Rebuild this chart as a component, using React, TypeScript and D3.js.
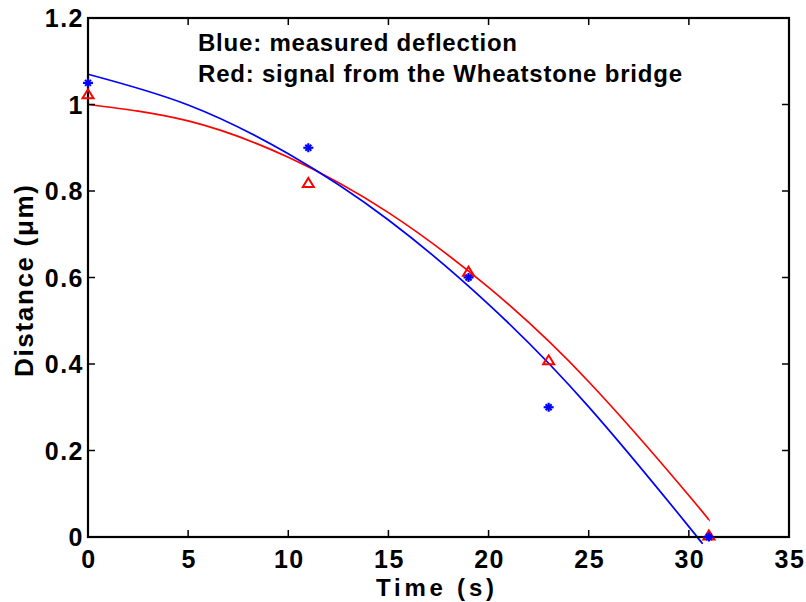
import React, { useEffect, useRef } from 'react';
import * as d3 from 'd3';

// measured points
const times = [0, 11, 19, 23, 31];
const deflection = [1.05, 0.9, 0.6, 0.3, 0];
const bridgeSignal = [1.02, 0.815, 0.61, 0.405, 0];

// fitted curves
const blueFitT = [0, 5, 10, 15, 20, 25, 30, 30.4];
const blueFitY = [1.07, 0.999, 0.886, 0.733, 0.538, 0.301, 0.024, 0];
const redFitT = [0, 5, 10, 15, 20, 25, 30, 31];
const redFitY = [1.0, 0.962, 0.878, 0.75, 0.577, 0.359, 0.096, 0.038];

const xTicks = [0, 5, 10, 15, 20, 25, 30, 35];
const yTicks = [0, 0.2, 0.4, 0.6, 0.8, 1, 1.2];

const W = 806;
const H = 602;
const FONT = '"Liberation Sans", Arial, sans-serif';

const App = () => {
  const svgRef = useRef<SVGSVGElement>(null);

  useEffect(() => {
    const svg = d3.select(svgRef.current);
    svg.selectAll('*').remove();

    const left = 88, right = 789, top = 18, bottom = 537;
    const x = d3.scaleLinear().domain([0, 35]).range([left, right]);
    const y = d3.scaleLinear().domain([0, 1.2]).range([bottom, top]);

    svg.append('rect').attr('width', W).attr('height', H).attr('fill', '#fff');

    // curves
    const line = d3
      .line<[number, number]>()
      .x((d) => x(d[0]))
      .y((d) => y(d[1]))
      .curve(d3.curveNatural);

    svg
      .append('path')
      .datum(redFitT.map((t, i) => [t, redFitY[i]] as [number, number]))
      .attr('fill', 'none')
      .attr('stroke', '#ff0000')
      .attr('stroke-width', 1.7)
      .attr('d', line);

    svg
      .append('path')
      .datum(blueFitT.map((t, i) => [t, blueFitY[i]] as [number, number]))
      .attr('fill', 'none')
      .attr('stroke', '#0000ff')
      .attr('stroke-width', 1.7)
      .attr('d', line);

    // frame and ticks
    const ax = svg.append('g').attr('stroke', '#000');
    ax.append('rect')
      .attr('x', left)
      .attr('y', top)
      .attr('width', right - left)
      .attr('height', bottom - top)
      .attr('fill', 'none')
      .attr('stroke-width', 2.2);

    const tl = 7;
    xTicks.forEach((t) => {
      ax.append('line').attr('x1', x(t)).attr('x2', x(t)).attr('y1', bottom).attr('y2', bottom - tl).attr('stroke-width', 1.5);
      ax.append('line').attr('x1', x(t)).attr('x2', x(t)).attr('y1', top).attr('y2', top + tl).attr('stroke-width', 1.5);
    });
    yTicks.forEach((v) => {
      ax.append('line').attr('x1', left).attr('x2', left + tl).attr('y1', y(v)).attr('y2', y(v)).attr('stroke-width', 1.5);
      ax.append('line').attr('x1', right).attr('x2', right - tl).attr('y1', y(v)).attr('y2', y(v)).attr('stroke-width', 1.5);
    });

    const labels = svg
      .append('g')
      .attr('font-family', FONT)
      .attr('font-weight', 'bold')
      .attr('font-size', 25)
      .attr('letter-spacing', 1.5)
      .attr('fill', '#000');
    xTicks.forEach((t) => {
      labels.append('text').attr('x', x(t) + 1).attr('y', bottom + 31).attr('text-anchor', 'middle').text(d3.format('d')(t));
    });
    yTicks.forEach((v) => {
      labels
        .append('text')
        .attr('x', left - 4)
        .attr('y', y(v) + 9)
        .attr('text-anchor', 'end')
        .text(v === 0 || v === 1 ? String(v) : v.toFixed(1));
    });

    // markers
    times.forEach((t, i) => {
      const cx = x(t), cy = y(bridgeSignal[i]) - 2;
      svg
        .append('path')
        .attr('d', `M${cx - 5.5},${cy + 4.5}L${cx + 5.5},${cy + 4.5}L${cx},${cy - 4.5}Z`)
        .attr('fill', 'none')
        .attr('stroke', '#ff0000')
        .attr('stroke-width', 2)
        .attr('stroke-linejoin', 'miter');
    });
    times.forEach((t, i) => {
      const g = svg.append('g').attr('transform', `translate(${x(t)},${y(deflection[i])})`).attr('stroke', '#0000ff');
      g.append('line').attr('x1', -5).attr('x2', 5).attr('stroke-width', 2.2);
      g.append('line').attr('y1', -4.5).attr('y2', 4.5).attr('stroke-width', 2.2);
      g.append('line').attr('x1', -3).attr('x2', 3).attr('y1', -3).attr('y2', 3).attr('stroke-width', 2);
      g.append('line').attr('x1', -3).attr('x2', 3).attr('y1', 3).attr('y2', -3).attr('stroke-width', 2);
    });

    // axis titles
    svg
      .append('text')
      .attr('x', 376)
      .attr('y', 596)
      .attr('font-family', FONT)
      .attr('font-weight', 'bold')
      .attr('font-size', 24)
      .attr('textLength', 118)
      .attr('lengthAdjust', 'spacing')
      .text('Time (s)');

    svg
      .append('text')
      .attr('transform', `translate(33,377) rotate(-90)`)
      .attr('font-family', FONT)
      .attr('font-weight', 'bold')
      .attr('font-size', 26)
      .attr('textLength', 192)
      .attr('lengthAdjust', 'spacing')
      .text('Distance (μm)');

    // annotation
    const note = svg.append('g').attr('font-family', FONT).attr('font-weight', 'bold').attr('font-size', 24);
    note.append('text').attr('x', 198).attr('y', 51).attr('textLength', 319).attr('lengthAdjust', 'spacing').text('Blue: measured deflection');
    note.append('text').attr('x', 198).attr('y', 82).attr('textLength', 484).attr('lengthAdjust', 'spacing').text('Red: signal from the Wheatstone bridge');
  }, []);

  return (
    <div style={{ position: 'absolute', left: 0, top: 0 }}>
      <svg ref={svgRef} width={W} height={H} style={{ display: 'block' }}></svg>
    </div>
  );
};

export default App;
